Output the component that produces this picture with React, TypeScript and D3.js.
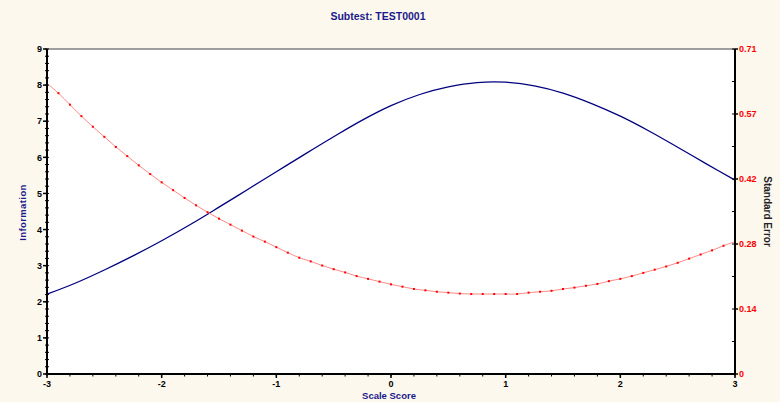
import * as d3 from "d3";

// chart size
const width = 780;
const height = 402;

// plot area (pixel box of the white panel)
const margin = { top: 49, right: 45, bottom: 28, left: 47 };

// scale score grid for the standard error series (every 0.1)
const seScores = d3.range(0, 61).map((i) => -3 + i / 10);

// standard error
const seValues = [
  0.632, 0.611, 0.586, 0.561, 0.538, 0.516, 0.494, 0.474, 0.454, 0.435,
  0.417, 0.4, 0.383, 0.367, 0.352, 0.338, 0.325, 0.312, 0.299, 0.288,
  0.276, 0.264, 0.253, 0.245, 0.236, 0.228, 0.221, 0.213, 0.207, 0.201,
  0.195, 0.19, 0.185, 0.182, 0.179, 0.177, 0.175, 0.174, 0.174, 0.174,
  0.174, 0.174, 0.177, 0.179, 0.181, 0.185, 0.188, 0.192, 0.196, 0.202,
  0.207, 0.213, 0.22, 0.227, 0.234, 0.242, 0.251, 0.26, 0.269, 0.279,
  0.288,
];

// information curve, read every 0.25
const infoScores = d3.range(0, 25).map((i) => -3 + i / 4);
const infoValues = [
  2.21, 2.52, 2.88, 3.27, 3.69, 4.14, 4.62, 5.11, 5.6, 6.09, 6.57, 7.03,
  7.43, 7.74, 7.95, 8.07, 8.08, 7.98, 7.78, 7.49, 7.14, 6.73, 6.28, 5.82,
  5.37,
];

// axis ticks
const xTicks = [-3, -2, -1, 0, 1, 2, 3];
const infoTicks = [0, 1, 2, 3, 4, 5, 6, 7, 8, 9];
const seMax = 0.7071;
const seTicks = [0, 0.1414, 0.2828, 0.4243, 0.5657, 0.7071];

const font = "'Liberation Sans', Arial, sans-serif";
const navy = "#1a1a8a";

export default function App() {
  const x0 = margin.left;
  const x1 = width - margin.right;
  const y0 = height - margin.bottom;
  const y1 = margin.top;

  const x = d3.scaleLinear().domain([-3, 3]).range([x0, x1]);
  const yInfo = d3.scaleLinear().domain([0, 9]).range([y0, y1]);
  const ySe = d3.scaleLinear().domain([0, seMax]).range([y0, y1]);

  const infoLine = d3
    .line<number>()
    .x((_, i) => x(infoScores[i]))
    .y((d) => yInfo(d))
    .curve(d3.curveCatmullRom);

  const seLine = d3
    .line<number>()
    .x((_, i) => x(seScores[i]))
    .y((d) => ySe(d))
    .curve(d3.curveCatmullRom);

  const xMinor = d3.range(0, 31).map((i) => -3 + i * 0.2);
  const yMinor = d3.range(0, 46).map((i) => i * 0.2);
  const seMinor = d3.range(0, 11).map((i) => (i * seMax) / 10);

  return (
    <svg
      width={width}
      height={height}
      style={{ position: "absolute", left: 0, top: 0 }}
      fontFamily={font}
    >
      <rect width={width} height={height} fill="#fdf8ee" />
      <rect x={x0} y={y1} width={x1 - x0} height={y0 - y1} fill="#ffffff" />

      {/* title */}
      <text x={378} y={20} textAnchor="middle" fontSize={10.5} fontWeight="bold" fill={navy}>
        Subtest: TEST0001
      </text>

      {/* top border */}
      <line x1={x0} x2={x1} y1={y1} y2={y1} stroke="#808080" strokeWidth={1.5} />

      {/* information curve */}
      <path d={infoLine(infoValues) ?? ""} fill="none" stroke="#00007f" strokeWidth={1.3} />

      {/* standard error curve */}
      <path d={seLine(seValues) ?? ""} fill="none" stroke="#ff8a8a" strokeWidth={1} />
      {seValues.map((v, i) => (
        <rect
          key={i}
          x={x(seScores[i]) - 1}
          y={ySe(v) - 1}
          width={2}
          height={2}
          fill="#ff0000"
        />
      ))}

      {/* left axis */}
      <line x1={x0} x2={x0} y1={y1} y2={y0} stroke="#000" strokeWidth={2} />
      {yMinor.map((t, i) => (
        <line key={i} x1={x0 - 2} x2={x0 + 2} y1={yInfo(t)} y2={yInfo(t)} stroke="#000" strokeWidth={1} />
      ))}
      {infoTicks.map((t) => (
        <g key={t}>
          <line x1={x0 - 4} x2={x0} y1={yInfo(t)} y2={yInfo(t)} stroke="#000" strokeWidth={1.5} />
          <text x={x0 - 5} y={yInfo(t) + 3.2} textAnchor="end" fontSize={9} fontWeight="bold" fill="#000">
            {t}
          </text>
        </g>
      ))}
      <text
        transform={`translate(26,${(y0 + y1) / 2 + 1}) rotate(-90)`}
        textAnchor="middle"
        fontSize={9.5}
        fontWeight="bold"
        fill={navy}
        letterSpacing={0.4}
      >
        Information
      </text>

      {/* right axis */}
      <line x1={x1} x2={x1} y1={y1} y2={y0} stroke="#000" strokeWidth={2} />
      {seMinor.map((t, i) => (
        <line key={i} x1={x1 - 3} x2={x1} y1={ySe(t)} y2={ySe(t)} stroke="#000" strokeWidth={1} />
      ))}
      {seTicks.map((t) => (
        <g key={t}>
          <line x1={x1} x2={x1 + 3} y1={ySe(t)} y2={ySe(t)} stroke="#000" strokeWidth={1.5} />
          <text x={x1 + 4} y={ySe(t) + 3.2} fontSize={9} fontWeight="bold" fill="#ff0000">
            {t === 0 ? "0" : d3.format(".2f")(t)}
          </text>
        </g>
      ))}
      <text
        transform={`translate(764,${(y0 + y1) / 2}) rotate(90)`}
        textAnchor="middle"
        fontSize={10}
        fontWeight="bold"
        fill="#222"
      >
        Standard Error
      </text>

      {/* bottom axis */}
      <line x1={x0 - 1} x2={x1 + 1} y1={y0} y2={y0} stroke="#000" strokeWidth={2} />
      {xMinor.map((t, i) => (
        <line key={i} x1={x(t)} x2={x(t)} y1={y0} y2={y0 + 2.5} stroke="#000" strokeWidth={1} />
      ))}
      {xTicks.map((t) => (
        <g key={t}>
          <line x1={x(t)} x2={x(t)} y1={y0} y2={y0 + 4} stroke="#000" strokeWidth={1.5} />
          <text x={x(t)} y={y0 + 13} textAnchor="middle" fontSize={9} fontWeight="bold" fill="#000">
            {t}
          </text>
        </g>
      ))}
      <text x={389} y={399} textAnchor="middle" fontSize={9.5} fontWeight="bold" fill={navy}>
        Scale Score
      </text>
    </svg>
  );
}
